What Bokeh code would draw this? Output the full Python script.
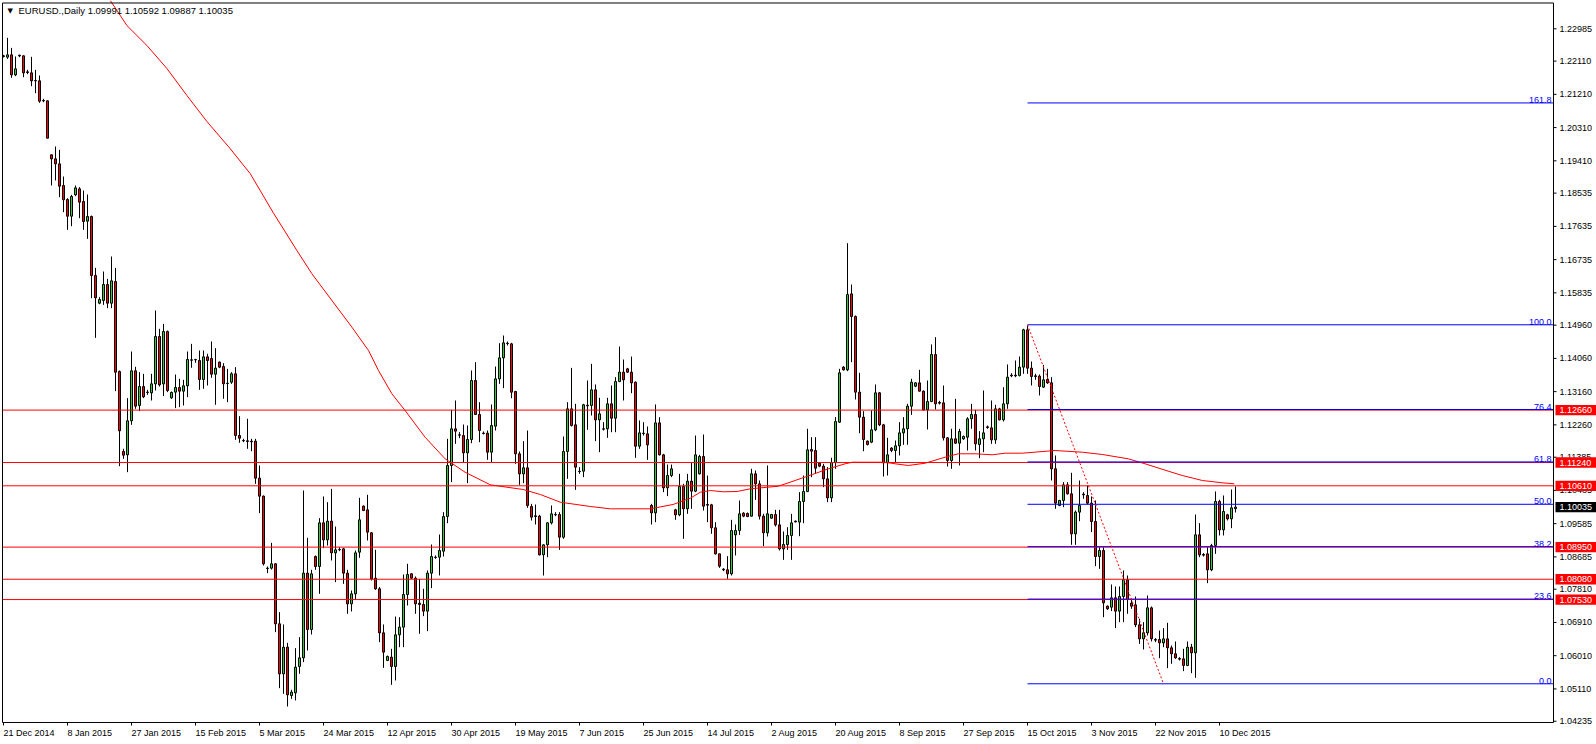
from bokeh.plotting import figure
from bokeh.models import Range1d, ColumnDataSource
from bokeh.core.properties import value
from bokeh.embed import file_html
from bokeh.resources import INLINE

# ---------------- data ----------------
opens = [
 1.22253,1.22217,1.22280,1.21738,1.22271,1.22253,1.21819,1.21792,1.21585,1.21576,
 1.21043,1.21034,1.19572,1.19464,1.19328,1.18742,1.18363,1.17911,1.18489,1.18651,
 1.18309,1.17776,1.17902,1.16304,1.15555,1.15628,1.16061,1.15555,1.16142,1.13706,
 1.11539,1.11449,1.12370,1.13724,1.12785,1.13299,1.13146,1.13128,1.13371,1.14653,
 1.13371,1.14788,1.12993,1.13146,1.13272,1.13173,1.13317,1.14021,1.14030,1.14003,
 1.13489,1.14102,1.14057,1.13633,1.13958,1.13841,1.13389,1.13416,1.13642,1.11972,
 1.11837,1.11828,1.11819,1.11819,1.10817,1.10330,1.08380,1.08380,1.08498,1.06873,
 1.05519,1.06241,1.04932,1.05005,1.05718,1.05952,1.08245,1.06719,1.08696,1.08425,
 1.09608,1.09147,1.09653,1.08795,1.08886,1.08904,1.08245,1.07414,1.07685,1.08813,
 1.10059,1.09960,1.09337,1.08109,1.07821,1.06629,1.05880,1.05970,1.05718,1.06575,
 1.06783,1.07667,1.08227,1.08109,1.07432,1.07396,1.07216,1.08245,1.08678,1.08678,
 1.08840,1.09779,1.11160,1.12153,1.11990,1.11972,1.11503,1.11864,1.13462,1.12541,
 1.12036,1.12036,1.11521,1.12225,1.13506,1.14075,1.14472,1.14454,1.13163,1.11476,
 1.10934,1.11097,1.10050,1.09797,1.09788,1.08741,1.09012,1.09608,1.09833,1.09833,
 1.09219,1.11539,1.12694,1.12261,1.11006,1.11006,1.12794,1.12785,1.13209,1.12397,
 1.12153,1.12153,1.12830,1.12441,1.13434,1.13687,1.13777,1.13687,1.13416,1.11683,
 1.12035,1.12017,1.10077,1.09878,1.12315,1.11449,1.10555,1.10889,1.09960,1.09824,
 1.10591,1.09987,1.10736,1.10465,1.10934,1.11404,1.10104,1.10095,1.09472,1.08768,
 1.08353,1.08335,1.08227,1.09283,1.09400,1.09869,1.09860,1.09788,1.10934,1.10663,
 1.09788,1.09337,1.09734,1.09833,1.09553,1.08903,1.09021,1.09264,1.09653,1.09626,
 1.10185,1.10456,1.11593,1.11566,1.11223,1.11142,1.10799,1.10284,1.11241,1.12333,
 1.13823,1.13751,1.15808,1.15195,1.13146,1.12469,1.11819,1.11792,1.12126,1.13128,
 1.12261,1.11232,1.11630,1.11566,1.11693,1.12044,1.12153,1.12767,1.13308,1.13398,
 1.13173,1.12667,1.12893,1.14166,1.12866,1.12857,1.11909,1.11296,1.11882,1.11765,
 1.11882,1.11927,1.12424,1.12541,1.11729,1.11882,1.12207,1.12180,1.11855,1.12694,
 1.12397,1.12830,1.13606,1.13606,1.13597,1.13823,1.14834,1.13796,1.13588,1.13579,
 1.13281,1.13489,1.13399,1.11070,1.10077,1.10212,1.10637,1.10393,1.09310,1.09897,
 1.10384,1.10348,1.10140,1.09644,1.08696,1.08858,1.07351,1.07324,1.07577,1.07216,
 1.07613,1.08064,1.07433,1.07387,1.06846,1.06467,1.06629,1.07306,1.06449,1.06449,
 1.06358,1.06467,1.06223,1.06061,1.05934,1.05925,1.05745,1.06241,1.06088,1.09283,
 1.08750,1.08768,1.08335,1.08994,1.10186,1.09418,1.09825,1.09716,1.09991]

highs = [
 1.22280,1.22740,1.22469,1.22235,1.22280,1.22262,1.21874,1.22226,1.21874,1.21720,
 1.21088,1.21043,1.19581,1.19798,1.19707,1.18985,1.18399,1.18489,1.18742,1.18697,
 1.18606,1.18498,1.17929,1.16512,1.15718,1.16413,1.16214,1.16819,1.16512,1.13733,
 1.11612,1.12984,1.14247,1.13832,1.13687,1.13642,1.13209,1.13642,1.15357,1.14860,
 1.14996,1.14815,1.13164,1.13624,1.13507,1.13480,1.14247,1.14454,1.14048,1.14274,
 1.14274,1.14184,1.14518,1.14337,1.13976,1.13931,1.13778,1.13687,1.13823,1.12496,
 1.11882,1.12424,1.11882,1.11882,1.11160,1.10348,1.08425,1.09066,1.08516,1.07189,
 1.06855,1.06358,1.05086,1.06214,1.06512,1.10483,1.09202,1.08335,1.08723,1.09734,
 1.10321,1.10167,1.10528,1.09508,1.08949,1.08922,1.08335,1.07775,1.08858,1.10285,
 1.10077,1.10366,1.09355,1.08877,1.07866,1.06855,1.06015,1.06196,1.07071,1.07053,
 1.08209,1.08498,1.08245,1.08155,1.08091,1.07821,1.08317,1.09021,1.08723,1.09292,
 1.09897,1.11882,1.12668,1.12920,1.12063,1.12270,1.12243,1.13733,1.13958,1.12875,
 1.12081,1.12108,1.12812,1.13840,1.14472,1.14680,1.14517,1.14481,1.13181,1.11539,
 1.11819,1.12107,1.10122,1.10104,1.09824,1.09021,1.09626,1.10077,1.09896,1.09896,
 1.11945,1.12875,1.13804,1.12830,1.11115,1.12830,1.13461,1.13913,1.13353,1.12992,
 1.12333,1.12992,1.13326,1.13552,1.14382,1.14030,1.13804,1.14111,1.13434,1.12379,
 1.12333,1.12216,1.10122,1.12812,1.12469,1.11476,1.11187,1.11187,1.09987,1.10934,
 1.10664,1.10934,1.11250,1.11972,1.11449,1.11999,1.10889,1.10122,1.09626,1.08768,
 1.08380,1.08705,1.09689,1.09562,1.10212,1.09896,1.09887,1.11070,1.11024,1.10754,
 1.09851,1.11160,1.09851,1.09959,1.09959,1.09373,1.09490,1.09851,1.09671,1.10438,
 1.10889,1.12153,1.11927,1.11927,1.11250,1.11205,1.11115,1.11368,1.12469,1.13778,
 1.13850,1.17180,1.16061,1.15222,1.13669,1.12631,1.11837,1.12649,1.13353,1.13146,
 1.12288,1.11909,1.11657,1.11837,1.12333,1.12469,1.12830,1.13507,1.13416,1.13751,
 1.13191,1.13462,1.14437,1.14635,1.12911,1.13326,1.11927,1.12153,1.12965,1.12153,
 1.11972,1.12469,1.12830,1.12667,1.12090,1.13191,1.12243,1.12920,1.12803,1.12722,
 1.13281,1.13895,1.13660,1.14003,1.14112,1.14861,1.14951,1.13976,1.13642,1.13624,
 1.13886,1.13778,1.13552,1.11431,1.10230,1.10709,1.10709,1.10962,1.09942,1.10754,
 1.10438,1.10619,1.10321,1.10212,1.08949,1.08949,1.07369,1.07938,1.07884,1.07884,
 1.08317,1.08182,1.07550,1.07613,1.07008,1.06918,1.07640,1.07342,1.06485,1.06692,
 1.06755,1.06900,1.06286,1.06395,1.05970,1.06196,1.06395,1.06331,1.09833,1.09599,
 1.08786,1.08949,1.09039,1.10456,1.10231,1.10348,1.09852,1.10510,1.10592]

lows = [
 1.22208,1.22171,1.21657,1.21702,1.22217,1.21675,1.21756,1.21431,1.21242,1.20980,
 1.20998,1.20023,1.18742,1.18877,1.18426,1.18019,1.17541,1.17640,1.18453,1.17857,
 1.17541,1.17297,1.15691,1.14617,1.15528,1.15510,1.15420,1.15420,1.13173,1.11142,
 1.11341,1.10980,1.12262,1.12695,1.12632,1.12984,1.13074,1.12920,1.13191,1.13299,
 1.13038,1.13146,1.12966,1.12713,1.12740,1.12785,1.13011,1.13805,1.13940,1.13209,
 1.13236,1.13326,1.13534,1.12803,1.13796,1.12966,1.12875,1.13371,1.11855,1.11774,
 1.11792,1.11612,1.11548,1.10664,1.09870,1.08452,1.08245,1.08344,1.06647,1.05131,
 1.04977,1.04634,1.04842,1.04797,1.05519,1.05835,1.06151,1.06584,1.08335,1.07685,
 1.08922,1.08994,1.08588,1.08001,1.08841,1.07956,1.07144,1.07207,1.07523,1.08660,
 1.09924,1.09129,1.08046,1.07794,1.06376,1.05681,1.05862,1.05221,1.05338,1.06241,
 1.06241,1.07369,1.08091,1.07144,1.06602,1.07081,1.06674,1.07839,1.08633,1.08182,
 1.08696,1.09599,1.10709,1.11747,1.11900,1.11232,1.10682,1.11765,1.12532,1.11792,
 1.11999,1.11314,1.11251,1.12107,1.13371,1.13254,1.14409,1.12983,1.11205,1.10636,
 1.10681,1.10014,1.09670,1.09562,1.08723,1.08181,1.08678,1.09562,1.09788,1.08876,
 1.09174,1.10799,1.12216,1.10501,1.10934,1.10844,1.12126,1.12514,1.11819,1.11521,
 1.12107,1.11909,1.12062,1.12062,1.13416,1.12920,1.13669,1.13118,1.11367,1.11611,
 1.11972,1.11313,1.09562,1.09626,1.11431,1.10438,1.10330,1.10844,1.09689,1.09788,
 1.09174,1.09851,1.09987,1.10438,1.10916,1.09942,1.09626,1.09310,1.08750,1.08389,
 1.08299,1.08091,1.08181,1.08723,1.09283,1.09761,1.09761,1.09779,1.10230,1.09698,
 1.08976,1.09237,1.09716,1.09508,1.08858,1.08606,1.08876,1.08606,1.09617,1.09246,
 1.09598,1.10438,1.10844,1.10934,1.11115,1.10573,1.10167,1.10167,1.11070,1.12315,
 1.13732,1.13714,1.13958,1.12947,1.12035,1.11548,1.11702,1.11765,1.12090,1.12225,
 1.10862,1.10889,1.11521,1.11250,1.11431,1.11720,1.11720,1.12532,1.13281,1.13164,
 1.12649,1.12135,1.12875,1.12676,1.12812,1.11837,1.11133,1.11070,1.11747,1.11160,
 1.11855,1.11566,1.12153,1.11566,1.11359,1.11521,1.12153,1.11747,1.11747,1.12379,
 1.12351,1.12695,1.13552,1.13552,1.13570,1.13642,1.13642,1.13326,1.13480,1.13056,
 1.13263,1.13371,1.10754,1.09987,1.10059,1.10032,1.10375,1.09012,1.09012,1.09653,
 1.10258,1.10104,1.09355,1.08434,1.08362,1.07053,1.07252,1.07216,1.06756,1.06918,
 1.06918,1.07144,1.07279,1.06783,1.06331,1.06178,1.06557,1.06395,1.06377,1.05943,
 1.06241,1.05672,1.05790,1.05925,1.05880,1.05591,1.05727,1.05537,1.05411,1.08678,
 1.08696,1.07974,1.08299,1.08768,1.09265,1.09265,1.09671,1.09463,1.09887]

closes = [
 1.22235,1.22280,1.21738,1.21901,1.22253,1.21792,1.21801,1.21576,1.21576,1.21025,
 1.21034,1.20023,1.19464,1.19328,1.18724,1.18354,1.17911,1.18444,1.18678,1.18291,
 1.17767,1.17902,1.16304,1.15700,1.15655,1.16061,1.15555,1.16160,1.13687,1.12099,
 1.11440,1.12370,1.13724,1.12767,1.13299,1.13020,1.13137,1.13371,1.14653,1.13344,
 1.14788,1.13191,1.13137,1.13272,1.13173,1.13317,1.14030,1.14012,1.14021,1.13489,
 1.14102,1.14003,1.13633,1.13796,1.13823,1.13371,1.13380,1.13642,1.11972,1.11900,
 1.11828,1.11810,1.11801,1.10817,1.10330,1.08498,1.08371,1.08498,1.06873,1.05519,
 1.06241,1.04950,1.05023,1.05699,1.05952,1.08245,1.06719,1.08227,1.08425,1.09608,
 1.09147,1.09653,1.08795,1.08877,1.08877,1.08245,1.07414,1.07685,1.08795,1.09689,
 1.09942,1.09355,1.08091,1.07821,1.06629,1.06106,1.05988,1.05718,1.06575,1.06783,
 1.07667,1.08209,1.08109,1.07414,1.07396,1.07216,1.08245,1.08696,1.08669,1.08858,
 1.09779,1.11160,1.12153,1.12090,1.11981,1.11503,1.11864,1.13462,1.12541,1.12108,
 1.12027,1.11521,1.12243,1.13506,1.14075,1.14481,1.14463,1.13145,1.11476,1.10934,
 1.11097,1.10077,1.09761,1.09779,1.08741,1.09012,1.09608,1.09851,1.09824,1.09219,
 1.11539,1.12694,1.12243,1.11115,1.10997,1.12803,1.12776,1.13209,1.12397,1.12559,
 1.12144,1.12830,1.12441,1.13434,1.13687,1.13480,1.13687,1.13398,1.11683,1.12044,
 1.12026,1.11719,1.09878,1.12315,1.11449,1.10555,1.10889,1.11070,1.09824,1.10591,
 1.09987,1.10736,1.10465,1.11449,1.11404,1.10059,1.10086,1.09472,1.08768,1.08434,
 1.08335,1.08227,1.09400,1.09400,1.09851,1.09788,1.09779,1.10934,1.10663,1.09788,
 1.09337,1.09851,1.09833,1.09553,1.08903,1.09021,1.09264,1.09607,1.09635,1.10185,
 1.10456,1.11584,1.11548,1.11088,1.11142,1.10799,1.10284,1.11241,1.12351,1.13669,
 1.13751,1.15790,1.15195,1.13146,1.12469,1.11864,1.11729,1.12126,1.13128,1.12261,
 1.11232,1.11449,1.11566,1.11693,1.12044,1.12153,1.12767,1.13416,1.13398,1.13173,
 1.12667,1.12893,1.14166,1.12830,1.12848,1.11909,1.11296,1.11882,1.11765,1.12081,
 1.11945,1.12424,1.12541,1.11747,1.11882,1.12044,1.12189,1.11855,1.12694,1.12397,
 1.12830,1.13552,1.13588,1.13588,1.13823,1.14834,1.13796,1.13570,1.13570,1.13299,
 1.13480,1.13399,1.11070,1.10140,1.10212,1.10637,1.10393,1.09310,1.09897,1.10077,
 1.10366,1.10140,1.09644,1.08696,1.08858,1.07441,1.07279,1.07577,1.07216,1.07613,
 1.08064,1.07532,1.07351,1.06846,1.06467,1.06629,1.07306,1.06467,1.06431,1.06358,
 1.06467,1.06223,1.06061,1.05952,1.05916,1.05745,1.06241,1.06088,1.09283,1.08741,
 1.08732,1.08335,1.08994,1.10186,1.09418,1.09915,1.09716,1.10014,1.10035]

# moving average (red curve), read at bar positions
ma_bar = [26.7, 30.85, 35.85, 40.85, 45.85, 50.85, 56.7, 61.7, 67.4, 73.35, 77.1, 82.1,
          87.1, 91.25, 93.75, 97.1, 100.4, 105.4, 110.4, 115.4, 121.7, 129.9, 134.2,
          139.2, 146.7, 151.7, 161.7, 167.4, 171.7, 174.2, 176.7, 179.9, 183.4, 186.7,
          193.7, 197.9, 202.2, 206.2, 210.4, 212.2, 220.4, 222.9, 226.2, 230.4, 235.4,
          238.7, 242.9, 247.2, 250.4, 254.7, 262.9, 269.7, 274.7, 281.2, 285.4, 291.2,
          294.7, 299.7, 304.7, 307.7]
ma_price = [1.23751, 1.23074, 1.22533, 1.21910, 1.21179, 1.20475, 1.19736, 1.19059,
            1.18011, 1.16982, 1.16351, 1.15628, 1.14905, 1.14274, 1.13732, 1.13101,
            1.12649, 1.11926, 1.11341, 1.10978, 1.10637, 1.10510, 1.10375, 1.10166,
            1.10050, 1.09987, 1.09987, 1.10104, 1.10274, 1.10437, 1.10483, 1.10448,
            1.10456, 1.10529, 1.10599, 1.10754, 1.10916, 1.11070, 1.11206, 1.11249,
            1.11249, 1.11206, 1.11160, 1.11222, 1.11385, 1.11477, 1.11477, 1.11450,
            1.11493, 1.11493, 1.11566, 1.11520, 1.11458, 1.11341, 1.11206, 1.11006,
            1.10889, 1.10754, 1.10692, 1.10664]

date_ticks = [0, 16, 32, 48, 64, 80, 96, 112, 128, 144, 160, 176, 192, 208, 224, 240,
              256, 272, 288, 304]
date_labels = ["21 Dec 2014", "8 Jan 2015", "27 Jan 2015", "15 Feb 2015", "5 Mar 2015",
               "24 Mar 2015", "12 Apr 2015", "30 Apr 2015", "19 May 2015", "7 Jun 2015",
               "25 Jun 2015", "14 Jul 2015", "2 Aug 2015", "20 Aug 2015", "8 Sep 2015",
               "27 Sep 2015", "15 Oct 2015", "3 Nov 2015", "22 Nov 2015", "10 Dec 2015"]
price_ticks = [1.22985, 1.22110, 1.21210, 1.20310, 1.19410, 1.18535, 1.17635, 1.16735,
               1.15835, 1.14960, 1.14060, 1.13160, 1.12260, 1.11385, 1.10485, 1.09585,
               1.08685, 1.07810, 1.06910, 1.06010, 1.05110, 1.04235]

hlines = [1.12660, 1.11240, 1.10610, 1.08950, 1.08080, 1.07530]
fib_high, fib_low = 1.14970, 1.05249
fib_bar_start, fib_bar_end = 256, 290
fib_levels = [0.0, 23.6, 38.2, 50.0, 61.8, 76.4, 100.0, 161.8]
fib_names = ["0.0", "23.6", "38.2", "50.0", "61.8", "76.4", "100.0", "161.8"]
last_price = 1.10035
header = "EURUSD.,Daily  1.09991 1.10592 1.09887 1.10035"

# ---------------- layout constants (canvas = one frame) ----------------
XS, XE = -0.75, 398.25            # 4 px per bar over 1596 px
YS, YE = 1.036052, 1.237513       # 744 px
CX0, CX1 = -0.25, 387.5           # chart box left / right (price-scale edge)
CY0, CY1 = 1.04201, 1.23684       # chart box bottom / top
TICK_X = 0.75                     # 3 px in bar units
TICK_Y = 0.00081                  # 3 px in price units
BOX_H = 0.00140                   # half height of price boxes
DATE_Y = 1.03921                  # row of the date labels
HEAD_Y = 1.23467
FONT = value("Liberation Sans")
GREEN = "#32CD32"

p = figure(width=1596, height=744, output_backend="svg", toolbar_location=None,
           x_range=Range1d(XS, XE), y_range=Range1d(YS, YE),
           x_axis_location=None, y_axis_location=None,
           min_border=0, min_border_left=0, min_border_right=0,
           min_border_top=0, min_border_bottom=0)
p.title.visible = False
p.grid.visible = False
p.outline_line_color = None
p.background_fill_color = "white"
p.border_fill_color = "white"

# candles
n = len(opens)
src = ColumnDataSource(dict(
    x=list(range(n)), o=opens, h=highs, l=lows, c=closes,
    top=[max(a, b) for a, b in zip(opens, closes)],
    bot=[min(a, b) for a, b in zip(opens, closes)],
    col=[GREEN if c > o else ("red" if c < o else "black") for o, c in zip(opens, closes)],
))
p.segment(x0="x", y0="l", x1="x", y1="h", source=src, line_color="black", line_width=1)
p.vbar(x="x", width=0.5, top="top", bottom="bot", source=src,
       fill_color="col", line_color="black", line_width=1)

# moving average
p.line(ma_bar, ma_price, line_color="red", line_width=1)

# horizontal red levels across the chart
p.segment(x0=[CX0] * len(hlines), x1=[CX1] * len(hlines), y0=hlines, y1=hlines,
          line_color="red", line_width=1)

# fibonacci
fib_prices = [fib_low + lv / 100.0 * (fib_high - fib_low) for lv in fib_levels]
p.segment(x0=[fib_bar_start] * len(fib_prices), x1=[CX1] * len(fib_prices),
          y0=fib_prices, y1=fib_prices, line_color="blue", line_width=1)
p.line([fib_bar_start, fib_bar_end], [fib_high, fib_low], line_color="red",
       line_width=1, line_dash="2 2")
p.text(x=[CX1 - 0.5] * len(fib_prices), y=fib_prices, text=fib_names,
       text_align="right", text_baseline="bottom", text_color="blue",
       text_font=FONT, text_font_size=value("9px"))

# chart box
p.line([CX0, CX0, CX1, CX1, CX0], [CY0, CY1, CY1, CY0, CY0], line_color="black", line_width=1)

# right price scale
p.segment(x0=[CX1] * len(price_ticks), x1=[CX1 + TICK_X] * len(price_ticks),
          y0=price_ticks, y1=price_ticks, line_color="black", line_width=1)
p.text(x=[CX1 + 1.5] * len(price_ticks), y=price_ticks,
       text=["%.5f" % v for v in price_ticks], text_align="left", text_baseline="middle",
       text_color="black", text_font=FONT, text_font_size=value("9px"))

# bottom time scale
p.segment(x0=date_ticks, x1=date_ticks, y0=[CY0] * len(date_ticks),
          y1=[CY0 - TICK_Y] * len(date_ticks), line_color="black", line_width=1)
p.text(x=date_ticks, y=[DATE_Y] * len(date_ticks), text=date_labels,
       text_align="left", text_baseline="middle", text_color="black",
       text_font=FONT, text_font_size=value("9px"))

# price boxes on the scale
box_prices = hlines + [last_price]
box_colors = ["red"] * len(hlines) + ["black"]
p.quad(left=[CX1 + 0.5] * len(box_prices), right=[XE] * len(box_prices),
       bottom=[v - BOX_H for v in box_prices], top=[v + BOX_H for v in box_prices],
       fill_color=box_colors, line_color=None)
p.text(x=[CX1 + 1.5] * len(box_prices), y=box_prices,
       text=["%.5f" % v for v in box_prices], text_align="left", text_baseline="middle",
       text_color="white", text_font=FONT, text_font_size=value("9px"))

# header
p.text(x=[1.0], y=[HEAD_Y], text=["\u25BC"], text_baseline="middle",
       text_font=value("DejaVu Sans"), text_font_size=value("7px"), text_color="black")
p.text(x=[3.75], y=[HEAD_Y], text=[header], text_baseline="middle",
       text_font=FONT, text_font_size=value("9.5px"), text_color="black")

open("out.html", "w").write(file_html(p, INLINE))
